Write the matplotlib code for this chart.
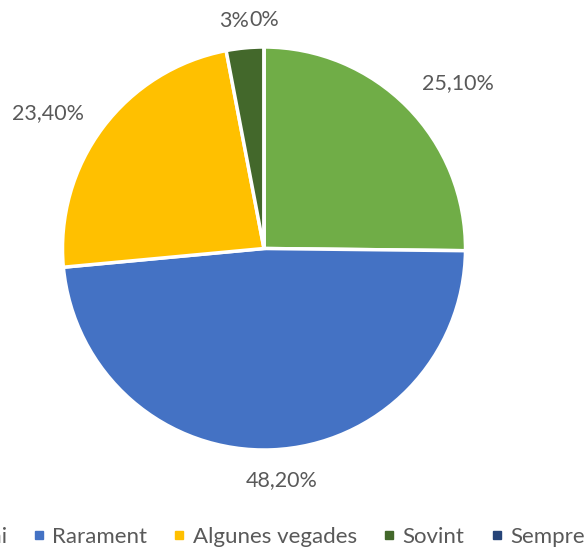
import numpy as np
import matplotlib
matplotlib.use("Agg")
import matplotlib.pyplot as plt
from matplotlib.lines import Line2D

categories = ["Mai", "Rarament", "Algunes vegades", "Sovint", "Sempre"]
values = [25.1, 48.2, 23.4, 3.0, 0.0]
value_labels = ["25,10%", "48,20%", "23,40%", "3%", "0%"]
colors = ["#70AD47", "#4472C4", "#FFC000", "#43682B", "#264478"]

W, H = 588, 554
fig = plt.figure(figsize=(W / 100, H / 100), dpi=100)
plt.rcParams['font.family'] = ['Lato', 'DejaVu Sans']
text_color = "#595959"
FS = 15.5

cx, cy, r = 264, 248.5, 201.5
ax = fig.add_axes([(cx - r) / W, (H - cy - r) / H, 2 * r / W, 2 * r / H])
wedges, _ = ax.pie(values, colors=colors, startangle=90, counterclock=False,
                   radius=1.0, wedgeprops=dict(edgecolor="white", linewidth=2.5))
ax.set_xlim(-1, 1)
ax.set_ylim(-1, 1)
ax.set_aspect("equal")
ax.axis("off")

label_r = [1.10, 1.10, 1.12, 1.085, 1.085]
label_dx = [0, 6, 0, 4, 0]  # small horizontal nudges in points
for w, lab, lr, dx in zip(wedges, value_labels, label_r, label_dx):
    ang = np.deg2rad((w.theta1 + w.theta2) / 2)
    c, s = np.cos(ang), np.sin(ang)
    ha = "left" if c > 0.05 else ("right" if c < -0.05 else "center")
    if abs(s) < 0.65:
        va = "center"
    else:
        va = "bottom" if s > 0 else "top"
    ax.annotate(lab, xy=(lr * c, lr * s), xytext=(dx, 0), textcoords="offset points",
                ha=ha, va=va, fontsize=FS, color=text_color, annotation_clip=False)

handles = [Line2D([0], [0], marker="s", linestyle="none", markersize=6,
                  markerfacecolor=col, markeredgecolor=col) for col in colors]
fig.legend(handles, categories, loc="center", bbox_to_anchor=(267 / W, 1 - 537 / H),
           ncol=5, frameon=False, fontsize=16, labelcolor=text_color,
           handlelength=0.6, handletextpad=0.3, columnspacing=1.15)

fig.savefig("out.png", dpi=100)
